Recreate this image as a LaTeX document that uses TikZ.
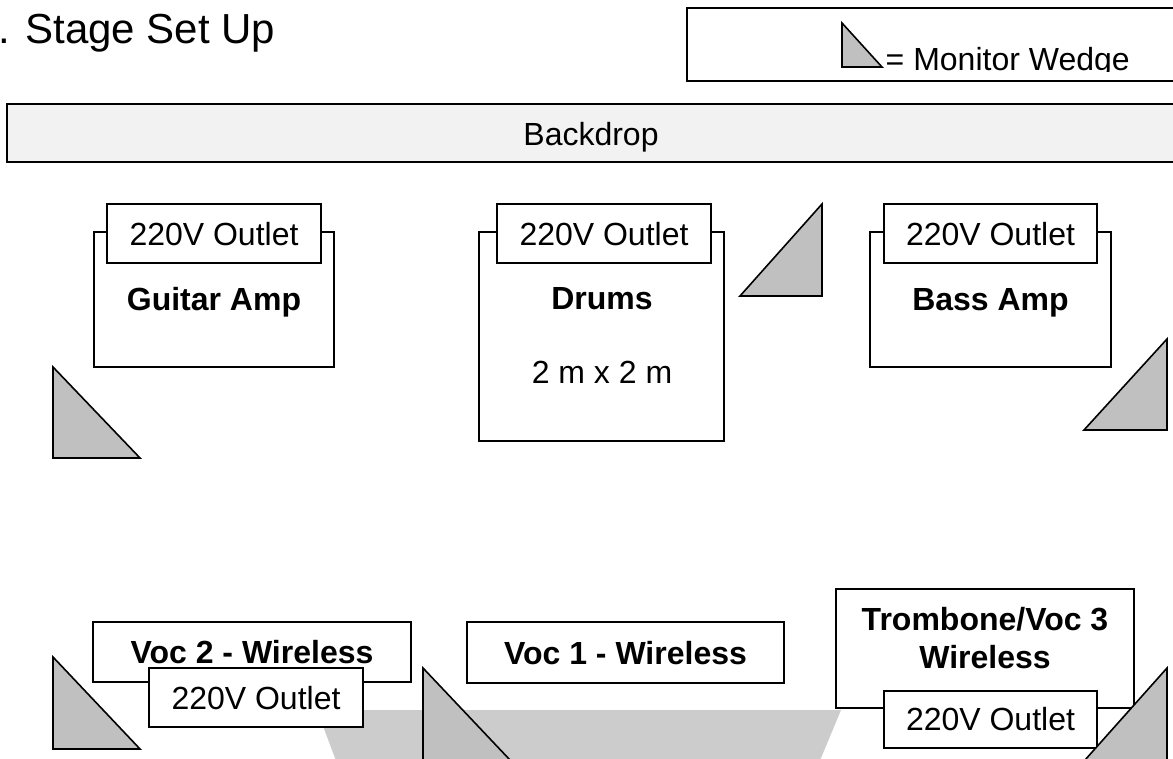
\documentclass[tikz,border=0pt]{standalone}
\usepackage{fontspec}
\setmainfont{Liberation Sans}
\definecolor{wedgegray}{HTML}{C0C0C0}
\definecolor{stagegray}{HTML}{CCCCCC}
\definecolor{backgray}{HTML}{F2F2F2}
\tikzset{
  box/.style={draw, line width=1.6pt, fill=white, inner sep=0pt, rectangle},
  wedge/.style={draw, line width=1.6pt, fill=wedgegray, line join=miter},
  lbl/.style={anchor=base, inner sep=0pt, font=\fontsize{32}{38}\selectfont},
  blbl/.style={anchor=base, inner sep=0pt, font=\fontsize{32}{38}\selectfont\bfseries},
}
\begin{document}
\begin{tikzpicture}[x=1pt, y=-1pt]
\useasboundingbox (0,0) rectangle (1173,758);
\clip (0,0) rectangle (1173,758);
\fill[white] (0,0) rectangle (1173,758);

% title
\node[anchor=base west, inner sep=0pt, font=\fontsize{42}{50}\selectfont] (title) at (-2,43) {. Stage Set Up};

% legend
\node[box, minimum width=498pt, minimum height=73pt] (legend) at (936,44.5) {};
\draw[wedge] (842,23) -- (842,67) -- (882,67) -- cycle;
\begin{scope}
  \clip (688,9) rectangle (1180,71.5);
  \node[anchor=base west, inner sep=0pt, font=\fontsize{32}{38}\selectfont] (legendtxt) at (885.5,70) {= Monitor Wedge};
\end{scope}

% backdrop
\node[box, fill=backgray, minimum width=1178pt, minimum height=58pt] (backdrop) at (596,133) {};
\node[lbl] (backdroptxt) at (591,145) {Backdrop};

% stage front (trapezoid)
\fill[stagegray] (317,710) -- (841,710) -- (816,770) -- (339.5,770) -- cycle;

% guitar amp
\node[box, minimum width=240pt, minimum height=135pt] (ga) at (214,299.5) {};
\node[box, minimum width=214pt, minimum height=59pt] (gao) at (214,233.5) {};
\node[lbl] (gaotxt) at (214,245) {220V Outlet};
\node[blbl] (gatxt) at (214,310) {Guitar Amp};

% drums
\node[box, minimum width=245pt, minimum height=209pt] (dr) at (601.5,336.5) {};
\node[box, minimum width=214pt, minimum height=59pt] (dro) at (604,233.5) {};
\node[lbl] (drotxt) at (604,245) {220V Outlet};
\node[blbl] (drtxt) at (602,309) {Drums};
\node[lbl] (drsize) at (602,383) {2 m x 2 m};

% bass amp
\node[box, minimum width=241pt, minimum height=135pt] (ba) at (990.5,299.5) {};
\node[box, minimum width=213pt, minimum height=59pt] (bao) at (990.5,233.5) {};
\node[lbl] (baotxt) at (990.5,245) {220V Outlet};
\node[blbl] (batxt) at (990.5,310) {Bass Amp};

% voc 2
\node[box, minimum width=318pt, minimum height=60pt] (v2) at (252,652) {};
\node[blbl] (v2txt) at (252,663) {Voc 2 - Wireless};
\node[box, minimum width=214pt, minimum height=59pt] (v2o) at (256,697.5) {};
\node[lbl] (v2otxt) at (256,709) {220V Outlet};

% voc 1
\node[box, minimum width=317pt, minimum height=61pt] (v1) at (625.5,652.5) {};
\node[blbl] (v1txt) at (625.5,664) {Voc 1 - Wireless};

% trombone
\node[box, minimum width=298pt, minimum height=119pt] (tb) at (985,648.5) {};
\node[blbl] (tbtxta) at (985,630) {Trombone/Voc 3};
\node[blbl] (tbtxtb) at (985,668) {Wireless};
\node[box, minimum width=213pt, minimum height=57pt] (tbo) at (990.5,719.5) {};
\node[lbl] (tbotxt) at (990.5,730) {220V Outlet};

% monitor wedges
\draw[wedge] (53,367) -- (53,458) -- (140,458) -- cycle;
\draw[wedge] (822,204) -- (822,296) -- (740,296) -- cycle;
\draw[wedge] (1167,339) -- (1167,430) -- (1084,430) -- cycle;
\draw[wedge] (53,657) -- (53,749) -- (140,749) -- cycle;
\draw[wedge] (423,668) -- (423,760) -- (510,760) -- cycle;
\draw[wedge] (1167,668) -- (1167,760) -- (1085,760) -- cycle;
\end{tikzpicture}
\end{document}
